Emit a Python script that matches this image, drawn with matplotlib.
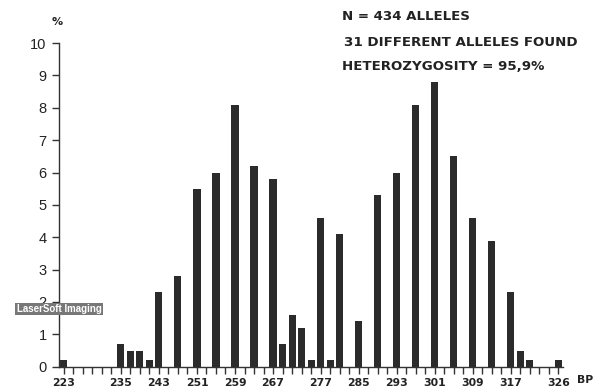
import matplotlib
matplotlib.use("Agg")
import matplotlib.pyplot as plt
import numpy as np

# allele sizes (bp) and frequencies (%)
alleles = [223, 235, 237, 239, 241, 243, 247, 251, 255, 259, 263, 267, 269, 271,
           273, 275, 277, 279, 281, 285, 289, 293, 297, 301, 305, 309, 313, 317,
           319, 321, 327]
freqs = [0.2, 0.7, 0.5, 0.5, 0.2, 2.3, 2.8, 5.5, 6.0, 8.1, 6.2, 5.8, 0.7, 1.6,
         1.2, 0.2, 4.6, 0.2, 4.1, 1.4, 5.3, 6.0, 8.1, 8.8, 6.5, 4.6, 3.9, 2.3,
         0.5, 0.2, 0.2]
# position index on the axis (one tick per 2 bp step)
tick_labels = {0: "223", 6: "235", 10: "243", 14: "251", 18: "259", 22: "267",
               27: "277", 31: "285", 35: "293", 39: "301", 43: "309", 47: "317",
               52: "326"}
y_ticks = list(range(0, 11))
info_lines = ["N = 434 ALLELES", "31 DIFFERENT ALLELES FOUND",
              "HETEROZYGOSITY = 95,9%"]

plt.rcParams['font.family'] = ['Liberation Sans', 'DejaVu Sans']

fig = plt.figure(figsize=(5.96, 3.92), dpi=100)
ax = fig.add_axes([0.099, 0.0645, 0.846, 0.8255])

pos = [(a - 223) // 2 for a in alleles]
ax.bar(pos, freqs, width=0.75, color="#2b2b2b", edgecolor="none", zorder=2)

ax.set_xlim(-0.5, 52.5)
ax.set_ylim(0, 10)
ax.spines['top'].set_visible(False)
ax.spines['right'].set_visible(False)
for s in ('left', 'bottom'):
    ax.spines[s].set_color("#333333")
    ax.spines[s].set_linewidth(1.0)

ax.set_yticks(y_ticks)
ax.set_yticklabels([str(v) for v in y_ticks], fontsize=10.5, color="#222222")
ax.tick_params(axis='y', direction='out', length=5, width=1, color="#333333", pad=4)

xt = list(range(0, 53))
ax.set_xticks(xt)
ax.set_xticklabels([tick_labels.get(i, "") for i in xt], fontsize=7.8,
                   fontweight='bold', color="#222222", family='DejaVu Sans')
ax.tick_params(axis='x', direction='out', length=5, width=1, color="#333333", pad=3)

fig.text(57 / 596, 1 - 22 / 392, "%", fontsize=8, fontweight='bold',
         ha='center', va='center', color="#222222", family='DejaVu Sans')
fig.text(585 / 596, 1 - 380 / 392, "BP", fontsize=7.8, fontweight='bold',
         ha='center', va='center', color="#222222", family='DejaVu Sans')

ys = [16, 42, 67]
xs = [342, 344, 342]
for t, x, y in zip(info_lines, xs, ys):
    fig.text(x / 596, 1 - y / 392, t, fontsize=9.6, fontweight='bold',
             ha='left', va='center', color="#222222", family='DejaVu Sans')

fig.text(59 / 596, 1 - 309 / 392, "LaserSoft Imaging", fontsize=7,
         fontweight='bold', ha='center', va='center', color="white",
         bbox=dict(boxstyle='square,pad=0.15', fc="#777777", ec="none"))

fig.savefig("out.png", dpi=100)
